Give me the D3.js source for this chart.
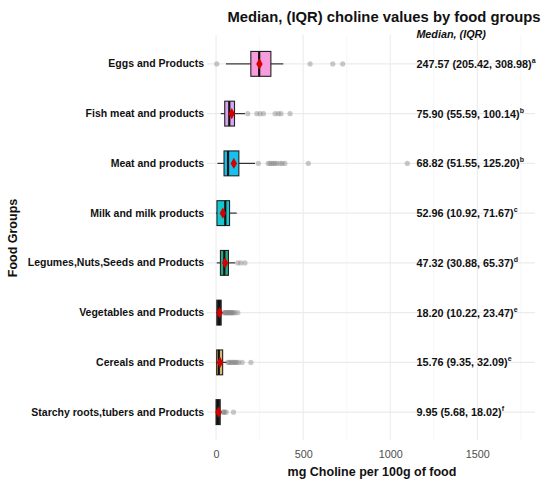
<!DOCTYPE html>
<html>
<head>
<meta charset="utf-8">
<script src="https://cdn.jsdelivr.net/npm/d3@7"></script>
<style>
  body { margin: 0; background: #fff; }
  text { font-family: "Liberation Sans", Arial, Helvetica, sans-serif; }
</style>
</head>
<body>
<div id="chart"></div>
<script>
// data
var groups = ['Eggs and Products', 'Fish meat and products', 'Meat and products', 'Milk and milk products',
  'Legumes,Nuts,Seeds and Products', 'Vegetables and Products', 'Cereals and Products', 'Starchy roots,tubers and Products'];
var q1 = [205.42, 55.59, 51.55, 10.92, 30.88, 10.22, 9.35, 5.68];
var medians = [247.57, 75.90, 68.82, 52.96, 47.32, 18.20, 15.76, 9.95];
var q3 = [308.98, 100.14, 125.20, 71.67, 65.37, 23.47, 32.09, 18.02];
var whiskLo = [57, 27, 8, 0, 4, 0, 0, 0];
var whiskHi = [386, 166, 224, 119, 110, 42, 62, 34];
var means = [249, 90, 102, 39, 52, 20, 23, 14];
var sigLetters = ['a', 'b', 'b', 'c', 'd', 'e', 'e', 'f'];
var outliers = [
  [4, 540, 670, 727],
  [182, 234, 253, 272, 339, 358, 373, 425],
  [243, 300, 310, 320, 330, 340, 350, 368, 380, 395, 530, 1098],
  [],
  [125, 142, 166],
  [45, 50, 55, 60, 65, 70, 75, 80, 85, 90, 95, 100, 110, 125],
  [68, 75, 82, 90, 98, 105, 112, 120, 130, 150, 200],
  [38, 44, 50, 58, 100]
];
var fills = ['#F79CDC', '#D9A6EE', '#17C1EE', '#13C9CF', '#28A687', '#2a2a2a', '#D9BC72', '#2a2a2a'];
var xTicks = [0, 500, 1000, 1500];

var width = 550, height = 486;
var pLeft = 207, pRight = 535, pTop = 39, pBottom = 437;

var svg = d3.select('#chart').append('svg')
  .attr('width', width)
  .attr('height', height);

var x = d3.scaleLinear().domain([-52, 1831]).range([pLeft, pRight]);
var y = d3.scaleBand().domain(groups).range([pTop, pBottom]);
var bw = y.bandwidth() * 0.5;

// grid
var minor = [250, 750, 1250, 1750];
svg.selectAll('.minor').data(minor).join('line').attr('class', 'minor')
  .attr('x1', d => x(d)).attr('x2', d => x(d))
  .attr('y1', pTop - 4).attr('y2', pBottom + 3)
  .attr('stroke', '#f2f2f2').attr('stroke-width', 0.6);
svg.selectAll('.major').data(xTicks).join('line').attr('class', 'major')
  .attr('x1', d => x(d)).attr('x2', d => x(d))
  .attr('y1', pTop - 4).attr('y2', pBottom + 3)
  .attr('stroke', '#ebebeb').attr('stroke-width', 1.1);
svg.selectAll('.hgrid').data(groups).join('line').attr('class', 'hgrid')
  .attr('x1', pLeft).attr('x2', pRight)
  .attr('y1', d => y(d) + y.bandwidth() / 2).attr('y2', d => y(d) + y.bandwidth() / 2)
  .attr('stroke', '#ebebeb').attr('stroke-width', 1.1);

// boxes
var rows = groups.map(function(g, i) {
  return {g: g, q1: q1[i], med: medians[i], q3: q3[i], lo: whiskLo[i], hi: whiskHi[i],
    mean: means[i], out: outliers[i], fill: fills[i], letter: sigLetters[i]};
});

var row = svg.selectAll('.row').data(rows).join('g').attr('class', 'row')
  .attr('transform', d => 'translate(0,' + (y(d.g) + y.bandwidth() / 2) + ')');

row.append('line')
  .attr('x1', d => x(d.lo)).attr('x2', d => x(d.q1))
  .attr('stroke', '#333').attr('stroke-width', 1.2);
row.append('line')
  .attr('x1', d => x(d.q3)).attr('x2', d => x(d.hi))
  .attr('stroke', '#333').attr('stroke-width', 1.2);

row.each(function(d) {
  d3.select(this).selectAll('circle').data(d.out).join('circle')
    .attr('cx', v => x(v)).attr('cy', 0).attr('r', 2.6)
    .attr('fill', '#888').attr('fill-opacity', 0.45);
});

row.append('rect')
  .attr('x', d => x(d.q1) - 1)
  .attr('width', d => x(d.q3) - x(d.q1) + 2)
  .attr('y', -bw / 2).attr('height', bw)
  .attr('fill', d => d.fill)
  .attr('stroke', '#222').attr('stroke-width', 1.1);
row.append('line')
  .attr('x1', d => x(d.med)).attr('x2', d => x(d.med))
  .attr('y1', -bw / 2).attr('y2', bw / 2)
  .attr('stroke', '#111').attr('stroke-width', 2.2);

row.append('path')
  .attr('d', d3.symbol(d3.symbolDiamond, 36))
  .attr('transform', d => 'translate(' + x(d.mean) + ',0)')
  .attr('fill', '#D40000');

// annotations
var ann = row.append('text')
  .attr('x', x(1150)).attr('y', 4)
  .style('font-size', '10.8px').style('font-weight', 'bold').attr('fill', '#111');
ann.append('tspan')
  .text(d => d.med.toFixed(2) + ' (' + d.q1.toFixed(2) + ', ' + d.q3.toFixed(2) + ')');
ann.append('tspan')
  .attr('dy', -5).style('font-size', '7px')
  .text(d => d.letter);

svg.append('text')
  .attr('x', x(1150)).attr('y', 38)
  .style('font-size', '10.8px').style('font-weight', 'bold').style('font-style', 'italic')
  .attr('fill', '#111')
  .text('Median, (IQR)');

// axes
var xAxis = svg.append('g').attr('transform', 'translate(0,' + (pBottom + 3) + ')')
  .call(d3.axisBottom(x).tickValues(xTicks).tickFormat(d3.format('d')).tickSize(0).tickPadding(10));
xAxis.select('.domain').remove();
xAxis.selectAll('text').style('font-size', '10.8px').attr('fill', '#4d4d4d')
  .style('font-family', '"Liberation Sans", Arial, sans-serif');

var yAxis = svg.append('g').attr('transform', 'translate(' + (pLeft - 3) + ',0)')
  .call(d3.axisLeft(y).tickSize(0).tickPadding(0));
yAxis.select('.domain').remove();
yAxis.selectAll('text').style('font-size', '10.5px').style('font-weight', 'bold').attr('fill', '#111')
  .style('font-family', '"Liberation Sans", Arial, sans-serif');

// titles
svg.append('text')
  .attr('x', 384).attr('y', 22)
  .attr('text-anchor', 'middle')
  .style('font-size', '14.8px').style('font-weight', 'bold').attr('fill', '#111')
  .text('Median, (IQR) choline values by food groups');

svg.append('text')
  .attr('x', (pLeft + pRight) / 2 + 1).attr('y', 476)
  .attr('text-anchor', 'middle')
  .style('font-size', '12.5px').style('font-weight', 'bold').attr('fill', '#111')
  .text('mg Choline per 100g of food');

svg.append('text')
  .attr('transform', 'translate(17,' + ((pTop + pBottom) / 2) + ') rotate(-90)')
  .attr('text-anchor', 'middle')
  .style('font-size', '12.5px').style('font-weight', 'bold').attr('fill', '#111')
  .text('Food Groups');
</script>
</body>
</html>
